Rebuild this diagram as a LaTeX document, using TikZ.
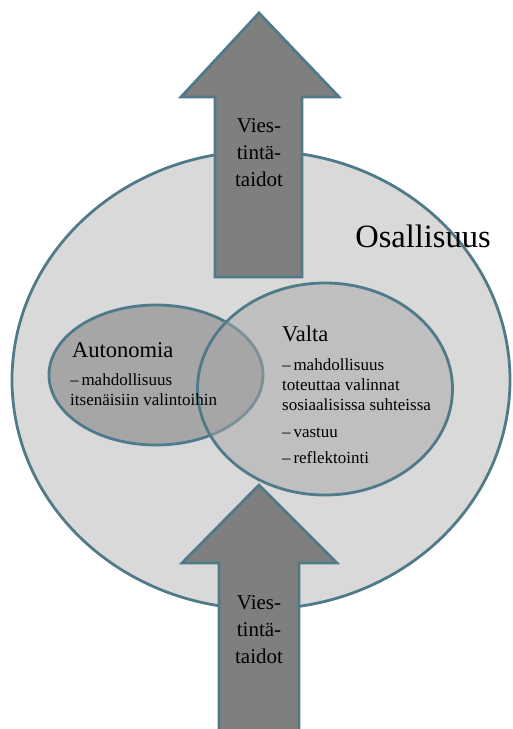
\documentclass[tikz,border=0pt]{standalone}
\usepackage{fontspec}
\setmainfont{Liberation Serif}
\usetikzlibrary{shapes.geometric}
\definecolor{rimblue}{RGB}{80,122,137}
\definecolor{outerfill}{RGB}{217,217,217}
\definecolor{arrowfill}{RGB}{127,127,127}
\definecolor{setfill}{RGB}{166,166,166}

\begin{document}
\begin{tikzpicture}[x=1pt,y=-1pt,
    rim/.style={draw=rimblue,line width=2.8pt},
    blob/.style={ellipse,rim,inner sep=0pt},
    bigarrow/.style={rim,fill=arrowfill,line join=miter},
    arrowtext/.style={align=center,inner sep=0pt,font=\fontsize{21}{27}\selectfont},
    head/.style={anchor=base west,inner sep=0pt,font=\fontsize{22.5}{26}\selectfont},
    item/.style={anchor=base west,inner sep=0pt,align=left,font=\fontsize{17}{20}\selectfont}
  ]
  \useasboundingbox (0,0) rectangle (512,729);
  \node[blob,fill=outerfill,minimum width=498pt,minimum height=458pt] (osa) at (261,380) {};
  % the two arrows
  \draw[bigarrow] (215,277) -- (215,97) -- (181,97) -- (259,13) -- (339,97) -- (302,97) -- (302,277) -- cycle;
  \draw[bigarrow] (219,740) -- (219,563) -- (182,563) -- (259,485) -- (337,563) -- (299,563) -- (299,740);
  \node[arrowtext] (vtop) at (259,153) {Vies-\\tintä-\\taidot};
  \node[arrowtext] (vbot) at (259,630) {Vies-\\tintä-\\taidot};
  \node[anchor=base,inner sep=0pt,font=\fontsize{32.5}{36}\selectfont] (osal) at (423,247) {Osallisuus};
  % the two sets
  \node[blob,fill=setfill,minimum width=214pt,minimum height=140pt] (auto) at (156,375) {};
  \node[blob,fill=setfill,fill opacity=0.5,minimum width=255pt,minimum height=212pt] (valta) at (325,389) {};
  \node[head] (autoHead) at (72,357) {Autonomia};
  \node[item] (autoItem) at (70,405) {–\,mahdollisuus\\itsenäisiin valintoihin};
  \node[head] (valtaHead) at (282,341) {Valta};
  \node[item] (valtaItem) at (282,463) {–\,mahdollisuus\\toteuttaa valinnat\\sosiaalisissa suhteissa\\[7pt]–\,vastuu\\[6pt]–\,reflektointi};
\end{tikzpicture}
\end{document}
